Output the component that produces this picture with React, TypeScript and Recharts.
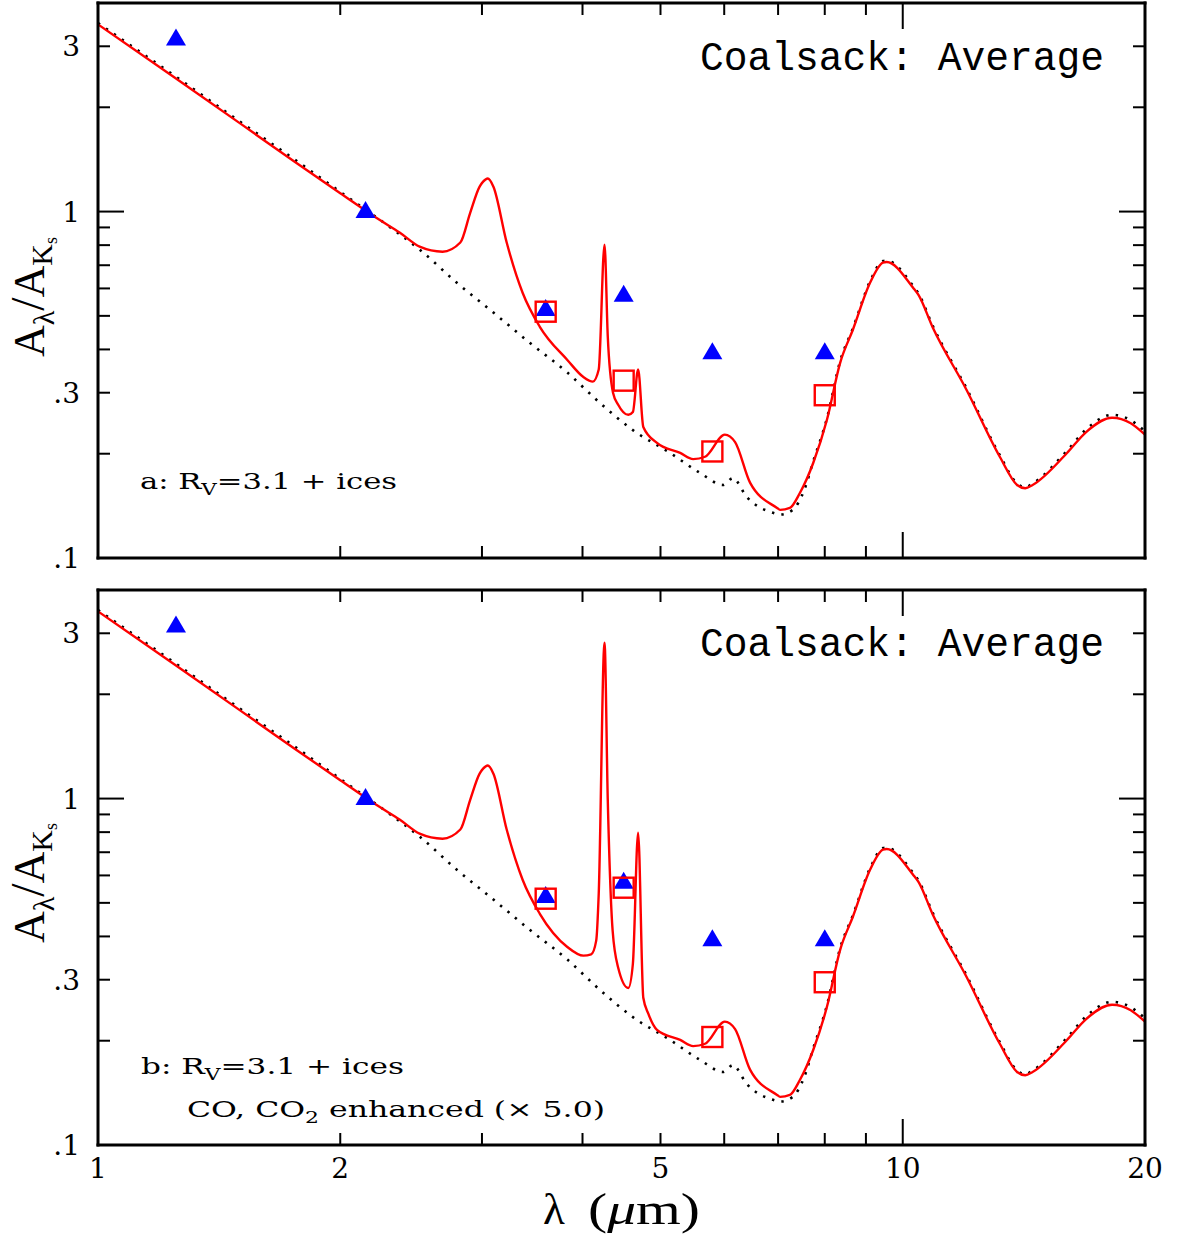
import React from 'react';
import { ComposedChart, Line, Scatter, XAxis, YAxis } from 'recharts';

// ---- data ----
// red model curve, panel a (wavelength in micron, A_lambda/A_Ks)
const lambdaA = [1.0, 1.25, 1.5, 1.75, 2.0, 2.24, 2.37, 2.51, 2.68, 2.82, 2.9, 2.98, 3.01, 3.05, 3.1, 3.22, 3.37, 3.54, 3.83, 4.01, 4.12, 4.19, 4.26, 4.3, 4.365, 4.43, 4.56, 4.62, 4.69, 4.76, 4.95, 5.29, 5.49, 5.68, 6.01, 6.19, 6.46, 6.98, 7.04, 7.24, 7.45, 7.74, 8.05, 8.36, 8.67, 9.11, 9.45, 9.55, 10.3, 10.46, 10.9, 12.0, 13.2, 13.87, 14.2, 14.5, 16.0, 16.9, 18.2, 19.2, 20.0];
const iceA = [3.47, 2.42, 1.8, 1.4, 1.13, 0.945, 0.87, 0.792, 0.766, 0.814, 0.99, 1.18, 1.22, 1.246, 1.18, 0.814, 0.583, 0.465, 0.373, 0.333, 0.323, 0.35, 0.803, 0.435, 0.3, 0.277, 0.259, 0.264, 0.35, 0.239, 0.215, 0.201, 0.193, 0.196, 0.227, 0.216, 0.165, 0.1395, 0.1377, 0.1395, 0.154, 0.188, 0.2506, 0.366, 0.456, 0.624, 0.712, 0.715, 0.603, 0.575, 0.462, 0.306, 0.196, 0.1625, 0.159, 0.1625, 0.201, 0.231, 0.254, 0.245, 0.227];

// red model curve, panel b (CO, CO2 enhanced)
const lambdaB = [1.0, 1.25, 1.5, 1.75, 2.0, 2.24, 2.37, 2.51, 2.68, 2.82, 2.9, 2.98, 3.01, 3.05, 3.1, 3.22, 3.37, 3.54, 3.83, 4.01, 4.1, 4.16, 4.19, 4.26, 4.3, 4.36, 4.43, 4.56, 4.62, 4.69, 4.76, 4.83, 4.95, 5.29, 5.49, 5.68, 6.01, 6.19, 6.46, 6.98, 7.04, 7.24, 7.45, 7.74, 8.05, 8.36, 8.67, 9.11, 9.45, 9.55, 10.3, 10.46, 10.9, 12.0, 13.2, 13.87, 14.2, 14.5, 16.0, 16.9, 18.2, 19.2, 20.0];
const iceB = [3.47, 2.42, 1.8, 1.4, 1.13, 0.945, 0.87, 0.792, 0.766, 0.814, 0.99, 1.18, 1.22, 1.246, 1.18, 0.814, 0.583, 0.465, 0.373, 0.352, 0.355, 0.389, 0.531, 2.82, 0.987, 0.416, 0.325, 0.284, 0.333, 0.797, 0.266, 0.239, 0.215, 0.201, 0.193, 0.196, 0.227, 0.216, 0.165, 0.1395, 0.1377, 0.1395, 0.154, 0.188, 0.2506, 0.366, 0.456, 0.624, 0.712, 0.715, 0.603, 0.575, 0.462, 0.306, 0.196, 0.1625, 0.159, 0.1625, 0.201, 0.231, 0.254, 0.245, 0.227];

// dotted curve: grains without ices
const lambdaBare = [1.0, 1.25, 1.5, 1.75, 2.0, 2.31, 2.51, 2.79, 3.1, 3.44, 3.83, 4.2, 4.62, 5.14, 5.6, 5.98, 6.15, 6.4, 6.9, 7.04, 7.3, 7.55, 7.74, 8.05, 8.36, 8.67, 9.11, 9.45, 9.55, 10.3, 10.46, 10.9, 12.0, 13.2, 13.87, 14.2, 14.5, 16.0, 16.9, 18.2, 19.2, 20.0];
const bare = [3.5, 2.45, 1.82, 1.42, 1.14, 0.899, 0.777, 0.624, 0.511, 0.418, 0.343, 0.281, 0.234, 0.201, 0.176, 0.1625, 0.17, 0.15, 0.135, 0.1335, 0.1377, 0.158, 0.19, 0.253, 0.37, 0.46, 0.63, 0.72, 0.722, 0.61, 0.58, 0.467, 0.309, 0.198, 0.164, 0.16, 0.164, 0.204, 0.235, 0.259, 0.25, 0.232];

// observed (blue triangles)
const obsLambda = [1.25, 2.15, 3.6, 4.5, 5.8, 8.0];
const obsValue = [3.18, 1.01, 0.527, 0.579, 0.395, 0.395];

// model band averages (red squares)
const bandLambda = [3.6, 4.5, 5.8, 8.0];
const bandA = [0.514, 0.325, 0.203, 0.295];
const bandB = [0.514, 0.553, 0.205, 0.295];

// axes and ticks
const xDomain = [1, 20];
const yDomain = [0.1, 4];
const xTicks = [2, 3, 4, 5, 6, 7, 8, 9, 10, 20];
const xLabelTicks = [1, 2, 5, 10, 20];
const xMajor = [1, 10];
const yTicks = [0.2, 0.3, 0.4, 0.5, 0.6, 0.7, 0.8, 0.9, 1, 2, 3];
const yLabelTicks = [0.1, 0.3, 1, 3];
const yLabelText = ['.1', '.3', '1', '3'];
const yMajor = [1];

const MAJOR = 26;
const MINOR = 12;

const zip = (xs: number[], ys: number[]) => xs.map((x, i) => ({ x, y: ys[i] }));
const bottomEdge = xTicks.map((x) => ({ x, y: yDomain[0] }));
const topEdge = xTicks.map((x) => ({ x, y: yDomain[1] }));

const SERIF = '"DejaVu Serif", "Liberation Serif", serif';
const TSERIF = '"Liberation Serif", "DejaVu Serif", serif';
const MONO = '"Liberation Mono", "DejaVu Sans Mono", monospace';

const Triangle = (p: any) => {
  const { cx, cy } = p;
  if (cx == null || cy == null) return null;
  return <path d={`M${cx - 10},${cy + 8} L${cx + 10},${cy + 8} L${cx},${cy - 9} Z`} fill="#0000ff" />;
};
const Square = (p: any) => {
  const { cx, cy } = p;
  if (cx == null || cy == null) return null;
  return <rect x={cx - 10} y={cy - 10} width={20} height={20} fill="none" stroke="#ff0000" strokeWidth={2.4} />;
};

// x tick marks on the frame, placed through the scales
const makeXMark = (dir: number) => (p: any) => {
  const { cx, cy, payload } = p;
  if (cx == null || cy == null) return null;
  const len = xMajor.includes(payload?.x) ? MAJOR : MINOR;
  return <line x1={cx} y1={cy} x2={cx} y2={cy + dir * len} stroke="#000" strokeWidth={2} />;
};
const BottomMark = makeXMark(-1);
const TopMark = makeXMark(1);

const XLabel = (p: any) => {
  const { x, y, payload } = p;
  if (x == null || y == null) return <g />;
  return (
    <text x={x} y={y} dy="0.71em" textAnchor="middle" fontFamily={SERIF} fontSize={28} fill="#000">
      {String(payload?.value)}
    </text>
  );
};

const LeftTick = (p: any) => {
  const { x, y, payload } = p;
  if (x == null || y == null) return <g />;
  const len = yMajor.includes(payload?.value) ? MAJOR : MINOR;
  return <line x1={x} y1={y} x2={x + len} y2={y} stroke="#000" strokeWidth={2} />;
};
const RightTick = (p: any) => {
  const { x, y, payload } = p;
  if (x == null || y == null) return <g />;
  const len = yMajor.includes(payload?.value) ? MAJOR : MINOR;
  return <line x1={x} y1={y} x2={x - len} y2={y} stroke="#000" strokeWidth={2} />;
};

const frameStyle = { stroke: '#000', strokeWidth: 3, strokeLinecap: 'square' as const };

function Panel({ width, height, margin, showX, ice, band }: any) {
  return (
    <ComposedChart width={width} height={height} margin={margin}>
      <XAxis
        type="number"
        scale="log"
        domain={xDomain}
        allowDataOverflow
        interval={0}
        xAxisId="main"
        dataKey="x"
        orientation="bottom"
        ticks={xLabelTicks}
        height={showX ? 89 : 1}
        tickSize={0}
        tickMargin={13}
        tickLine={false}
        axisLine={frameStyle}
        tick={showX ? XLabel : false}
      />
      <XAxis
        type="number"
        scale="log"
        domain={xDomain}
        allowDataOverflow
        xAxisId="top"
        orientation="top"
        height={1}
        tick={false}
        tickLine={false}
        axisLine={frameStyle}
      />
      <YAxis
        type="number"
        scale="log"
        domain={yDomain}
        allowDataOverflow
        interval={0}
        yAxisId="main"
        dataKey="y"
        ticks={yLabelTicks}
        width={98}
        tickSize={0}
        tickMargin={18}
        tickLine={false}
        axisLine={frameStyle}
        tickFormatter={(v: number) => yLabelText[yLabelTicks.indexOf(v)] ?? String(v)}
        tick={{ fill: '#000', fontSize: 28, fontFamily: SERIF }}
      />
      <YAxis
        type="number"
        scale="log"
        domain={yDomain}
        allowDataOverflow
        interval={0}
        yAxisId="left"
        orientation="left"
        mirror
        ticks={yTicks}
        tickSize={0}
        tickMargin={0}
        tickLine={false}
        axisLine={false}
        tick={LeftTick}
      />
      <YAxis
        type="number"
        scale="log"
        domain={yDomain}
        allowDataOverflow
        interval={0}
        yAxisId="right"
        orientation="right"
        mirror
        ticks={yTicks}
        tickSize={0}
        tickMargin={0}
        tickLine={false}
        axisLine={frameStyle}
        tick={RightTick}
      />

      <Scatter xAxisId="main" yAxisId="main" data={bottomEdge} dataKey="y" shape={BottomMark} isAnimationActive={false} />
      <Scatter xAxisId="main" yAxisId="main" data={topEdge} dataKey="y" shape={TopMark} isAnimationActive={false} />

      <Line
        xAxisId="main"
        yAxisId="main"
        data={zip(lambdaBare, bare)}
        dataKey="y"
        type="monotone"
        stroke="#000"
        strokeWidth={2.6}
        strokeDasharray="2.4 7.2"
        dot={false}
        activeDot={false}
        isAnimationActive={false}
      />
      <Line
        xAxisId="main"
        yAxisId="main"
        data={ice}
        dataKey="y"
        type="monotone"
        stroke="#ff0000"
        strokeWidth={2.4}
        dot={false}
        activeDot={false}
        isAnimationActive={false}
      />
      <Scatter xAxisId="main" yAxisId="main" data={zip(obsLambda, obsValue)} dataKey="y" shape={Triangle} isAnimationActive={false} />
      <Scatter xAxisId="main" yAxisId="main" data={band} dataKey="y" shape={Square} isAnimationActive={false} />
    </ComposedChart>
  );
}

const YTitle = ({ cy }: { cy: number }) => (
  <text
    transform={`translate(44, ${cy}) rotate(-90)`}
    textAnchor="middle"
    fontFamily={TSERIF}
    fontSize={44}
    fill="#000"
  >
    A<tspan fontSize={30} dy={10}>λ</tspan>
    <tspan dy={-10} fontSize={48}>/</tspan>A<tspan fontSize={30} dy={8}>K</tspan>
    <tspan fontSize={18} dy={5}>s</tspan>
  </text>
);

export default function App() {
  return (
    <div style={{ position: 'absolute', left: 0, top: 0, width: 1177, height: 1234, background: '#fff' }}>
      <div style={{ position: 'absolute', left: 0, top: 0 }}>
        <Panel width={1177} height={575} margin={{ top: 2, right: 32, left: 0, bottom: 16 }} showX={false} ice={zip(lambdaA, iceA)} band={zip(bandLambda, bandA)} />
      </div>
      <div style={{ position: 'absolute', left: 0, top: 575 }}>
        <Panel width={1177} height={659} margin={{ top: 14, right: 32, left: 0, bottom: 0 }} showX={true} ice={zip(lambdaB, iceB)} band={zip(bandLambda, bandB)} />
      </div>
      <svg width={1177} height={1234} style={{ position: 'absolute', left: 0, top: 0, pointerEvents: 'none' }}>
        <YTitle cy={297} />
        <YTitle cy={883} />
        <text x={700} y={70} fontFamily={MONO} fontSize={40} textLength={404} lengthAdjust="spacingAndGlyphs" fill="#000">Coalsack: Average</text>
        <text x={700} y={656} fontFamily={MONO} fontSize={40} textLength={404} lengthAdjust="spacingAndGlyphs" fill="#000">Coalsack: Average</text>
        <text x={140} y={489} fontFamily={SERIF} fontSize={23} textLength={257} lengthAdjust="spacingAndGlyphs" fill="#000">
          a:  R<tspan fontSize={16} dy={6}>V</tspan><tspan dy={-6}>=3.1 + ices</tspan>
        </text>
        <text x={141} y={1074} fontFamily={SERIF} fontSize={23} textLength={263} lengthAdjust="spacingAndGlyphs" fill="#000">
          b:  R<tspan fontSize={16} dy={6}>V</tspan><tspan dy={-6}>=3.1 + ices</tspan>
        </text>
        <text x={187} y={1117} fontFamily={SERIF} fontSize={23} textLength={418} lengthAdjust="spacingAndGlyphs" fill="#000">
          CO, CO<tspan fontSize={16} dy={6}>2</tspan><tspan dy={-6}>  enhanced (× 5.0)</tspan>
        </text>
        <text x={543} y={1224} fontFamily={TSERIF} fontSize={45} fill="#000">λ</text>
        <text x={588} y={1224} fontFamily={TSERIF} fontSize={45} textLength={112} lengthAdjust="spacingAndGlyphs" fill="#000">
          (<tspan fontStyle="italic">μ</tspan>m)
        </text>
      </svg>
    </div>
  );
}
